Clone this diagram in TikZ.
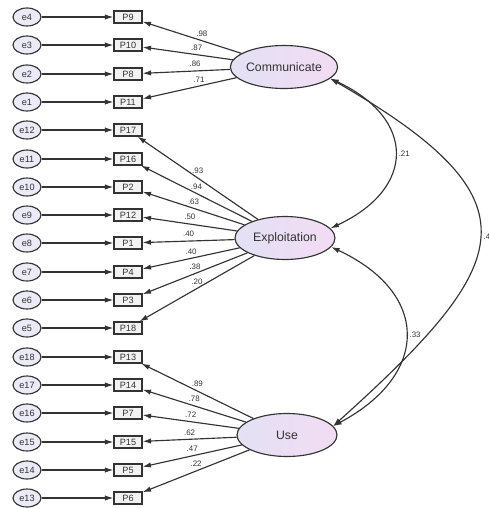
\documentclass[tikz,border=0pt]{standalone}
\usepackage{fontspec}
\setmainfont{Liberation Sans}
\usepackage{xcolor}
\usepackage{tikz}
\usetikzlibrary{arrows.meta,shapes.geometric}

\definecolor{lavleft}{HTML}{E3E1F4}
\definecolor{lavright}{HTML}{F2DCF4}
\definecolor{ink}{HTML}{333333}

\tikzset{
  err/.style={ellipse,draw=ink,fill=lavleft!70,minimum width=0.56cm,minimum height=0.36cm,inner sep=0pt,font=\fontsize{5.2}{6}\selectfont},
  obs/.style={rectangle,draw=ink,fill=gray!10,minimum width=0.56cm,minimum height=0.24cm,inner sep=0pt,font=\fontsize{5.2}{6}\selectfont},
  lat/.style={ellipse,draw=ink,left color=lavleft,right color=lavright,minimum width=2cm,minimum height=0.86cm,inner sep=0pt,font=\fontsize{7}{8}\selectfont},
  wt/.style={font=\fontsize{4.5}{5}\selectfont,inner sep=1pt}
}

\begin{document}
\begin{tikzpicture}[x=0.02cm,y=-0.02cm,ink,line width=0.65pt,>={Latex[length=4.8pt,width=3pt]}]
		\useasboundingbox (0,0) rectangle (488,508);
		% error terms
		\node[err] (e4) at (27,17) {e4};
		\node[err] (e3) at (27,45) {e3};
		\node[err] (e2) at (27,74) {e2};
		\node[err] (e1) at (27,102) {e1};
		\node[err] (e12) at (27,130) {e12};
		\node[err] (e11) at (27,159) {e11};
		\node[err] (e10) at (27,187) {e10};
		\node[err] (e9) at (27,215) {e9};
		\node[err] (e8) at (27,243) {e8};
		\node[err] (e7) at (27,272) {e7};
		\node[err] (e6) at (27,300) {e6};
		\node[err] (e5) at (27,328) {e5};
		\node[err] (e18) at (27,357) {e18};
		\node[err] (e17) at (27,385) {e17};
		\node[err] (e16) at (27,413) {e16};
		\node[err] (e15) at (27,442) {e15};
		\node[err] (e14) at (27,470) {e14};
		\node[err] (e13) at (27,498) {e13};
		% items
		\node[obs] (P9) at (128,17) {P9};
		\node[obs] (P10) at (128,45) {P10};
		\node[obs] (P8) at (128,74) {P8};
		\node[obs] (P11) at (128,102) {P11};
		\node[obs] (P17) at (128,130) {P17};
		\node[obs] (P16) at (128,159) {P16};
		\node[obs] (P2) at (128,187) {P2};
		\node[obs] (P12) at (128,215) {P12};
		\node[obs] (P1) at (128,243) {P1};
		\node[obs] (P4) at (128,272) {P4};
		\node[obs] (P3) at (128,300) {P3};
		\node[obs] (P18) at (128,328) {P18};
		\node[obs] (P13) at (128,357) {P13};
		\node[obs] (P14) at (128,385) {P14};
		\node[obs] (P7) at (128,413) {P7};
		\node[obs] (P15) at (128,442) {P15};
		\node[obs] (P5) at (128,470) {P5};
		\node[obs] (P6) at (128,498) {P6};
		% factors
		\node[lat] (Com) at (284,67) {Communicate};
		\node[lat] (Expl) at (285,238) {Exploitation};
		\node[lat] (Use) at (287,435) {Use};
		%
		\path[->]
		% error arrows
		(e4) edge (P9)
		(e3) edge (P10)
		(e2) edge (P8)
		(e1) edge (P11)
		(e12) edge (P17)
		(e11) edge (P16)
		(e10) edge (P2)
		(e9) edge (P12)
		(e8) edge (P1)
		(e7) edge (P4)
		(e6) edge (P3)
		(e5) edge (P18)
		(e18) edge (P13)
		(e17) edge (P14)
		(e16) edge (P7)
		(e15) edge (P15)
		(e14) edge (P5)
		(e13) edge (P6)
		% loadings
		(Com) edge node[wt,pos=.4,above=1pt]{.98} (P9)
		(Com) edge node[wt,pos=.4,above=1pt]{.87} (P10)
		(Com) edge node[wt,pos=.4,above=1pt]{.86} (P8)
		(Com) edge node[wt,pos=.4,above=1pt]{.71} (P11)
		(Expl) edge node[wt,pos=.5,above=1pt]{.93} (P17)
		(Expl) edge node[wt,pos=.5,above=1pt]{.94} (P16)
		(Expl) edge node[wt,pos=.5,above=1pt]{.63} (P2)
		(Expl) edge node[wt,pos=.5,above=1pt]{.50} (P12)
		(Expl) edge node[wt,pos=.5,above=1pt]{.40} (P1)
		(Expl) edge node[wt,pos=.5,above=1pt]{.40} (P4)
		(Expl) edge node[wt,pos=.5,above=1pt]{.38} (P3)
		(Expl) edge node[wt,pos=.5,above=1pt]{.20} (P18)
		(Use) edge node[wt,pos=.5,above=1pt]{.89} (P13)
		(Use) edge node[wt,pos=.5,above=1pt]{.78} (P14)
		(Use) edge node[wt,pos=.5,above=1pt]{.72} (P7)
		(Use) edge node[wt,pos=.5,above=1pt]{.62} (P15)
		(Use) edge node[wt,pos=.5,above=1pt]{.47} (P5)
		(Use) edge node[wt,pos=.5,above=1pt]{.22} (P6)
		% covariances
		(Com.-14) edge[<->,out=-25,in=25,looseness=1.62] node[wt,right=1pt]{.21} (Expl.12)
		(Expl.-11) edge[<->,out=-25,in=28,looseness=1.56] node[wt,right=1pt]{.33} (Use.11)
		(Com.-14) edge[<->,out=-30,in=42,looseness=1.8] node[wt,right=1pt]{.4} (Use.11);
\end{tikzpicture}
\end{document}
